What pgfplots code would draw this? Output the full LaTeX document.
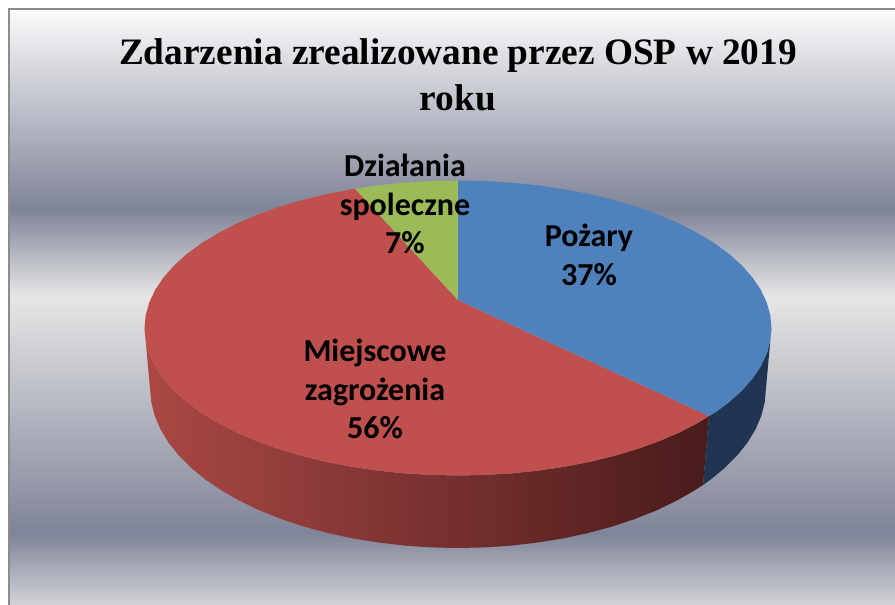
\documentclass[border=0pt]{standalone}
\usepackage{fontspec}
\setmainfont{Liberation Serif}
\newfontfamily\calibri{Carlito}
\usepackage{pgfplots}
\pgfplotsset{compat=1.18}
\definecolor{bgA}{HTML}{FBFBFB}
\definecolor{bgB}{HTML}{7F8498}
\definecolor{bgC}{HTML}{E6E6E6}
\definecolor{bgD}{HTML}{D2D3D7}
\definecolor{frameC}{HTML}{8C8C8C}
\definecolor{pieBlue}{HTML}{4F81BD}
\definecolor{pieRed}{HTML}{C0504D}
\definecolor{pieGreen}{HTML}{9BBB59}
\definecolor{sideBlue}{HTML}{1F3551}
\definecolor{sideRedL}{HTML}{AA4845}
\definecolor{sideRedR}{HTML}{491B1B}
\pgfdeclareverticalshading{chartbg}{100bp}{%
  color(0bp)=(bgD); color(25bp)=(bgD); color(31.05bp)=(bgB);
  color(50.88bp)=(bgC); color(58.19bp)=(bgB);
  color(75bp)=(bgA); color(100bp)=(bgA)}
\pgfdeclarehorizontalshading{redside}{100bp}{%
  color(0bp)=(sideRedL); color(25bp)=(sideRedL);
  color(75bp)=(sideRedR); color(100bp)=(sideRedR)}
\begin{document}
\begin{tikzpicture}
\begin{axis}[
  scale only axis, width=895pt, height=605pt,
  xmin=0, xmax=895, ymin=0, ymax=605, y dir=reverse,
  hide axis, clip=true]
% page
\addplot[draw=none, fill=white] coordinates {(0,0) (895,0) (895,605) (0,605)} --cycle;
% background
\addplot[draw=none, shade, shading=chartbg] coordinates {(9,9) (895,9) (895,605) (9,605)} --cycle;
% frame
\addplot[draw=frameC, line width=2.2pt, forget plot] coordinates {(9,605) (9,9) (895,9)};
% side walls
\addplot[draw=none, fill=sideBlue] coordinates {
 (771.5,328) (770.3,340.9) (766.7,353.6) (760.8,366.2) (752.6,378.4) (742.1,390.3) (729.5,401.8) (714.8,412.6) (709,416)
 (703,485) (710.3,479.8) (724.7,468) (737.1,455.6) (747.4,442.7) (755.5,429.4) (761.3,415.8) (764.8,401.9) (766,388)} --cycle;
\addplot[draw=none, shade, shading=redside] coordinates {
 (709,416) (698.1,422.8) (679.7,432.3) (659.5,441) (637.8,448.8) (614.8,455.7) (590.5,461.7) (565.2,466.6) (539.1,470.5) (512.4,473.3) (485.3,474.9) (458,475.5)
 (430.7,474.9) (403.6,473.3) (376.9,470.5) (350.8,466.6) (325.5,461.7) (301.2,455.7) (278.2,448.8) (256.5,441) (236.3,432.3) (217.9,422.8) (201.2,412.6) (186.5,401.8)
 (173.9,390.3) (163.4,378.4) (155.2,366.2) (149.3,353.6) (145.7,340.9) (144.5,328)
 (150,388) (151.2,401.9) (154.7,415.8) (160.5,429.4) (168.6,442.7) (178.9,455.6) (191.3,468) (205.7,479.8) (222.1,490.8) (240.2,501.1) (260,510.6) (281.3,519.1) (304,526.6)
 (327.8,533) (352.7,538.4) (378.3,542.5) (404.5,545.6) (431.1,547.4) (458,548) (484.9,547.4) (511.5,545.6) (537.7,542.5) (563.3,538.4) (588.2,533) (612,526.6) (634.7,519.1) (656,510.6)
 (675.8,501.1) (693.9,490.8) (703,485)} --cycle;
% top faces
\addplot[draw=none, fill=pieRed] coordinates {
 (458,300) (709,416) (698.1,422.8) (679.7,432.3) (659.5,441) (637.8,448.8) (614.8,455.7) (590.5,461.7) (565.2,466.6) (539.1,470.5) (512.4,473.3) (485.3,474.9) (458,475.5)
 (430.7,474.9) (403.6,473.3) (376.9,470.5) (350.8,466.6) (325.5,461.7) (301.2,455.7) (278.2,448.8) (256.5,441) (236.3,432.3) (217.9,422.8) (201.2,412.6) (186.5,401.8)
 (173.9,390.3) (163.4,378.4) (155.2,366.2) (149.3,353.6) (145.7,340.9) (144.5,328) (145.7,315.1) (149.3,302.4) (155.2,289.8) (163.4,277.6) (173.9,265.7) (186.5,254.2)
 (201.2,243.4) (217.9,233.2) (236.3,223.7) (256.5,215) (278.2,207.2) (301.2,200.3) (325.5,194.3) (355,188.7)} --cycle;
\addplot[draw=none, fill=pieGreen] coordinates {
 (458,300) (355,188.7) (376.9,185.5) (403.6,182.7) (430.7,181.1) (458,180.5)} --cycle;
\addplot[draw=none, fill=pieBlue] coordinates {
 (458,300) (458,180.5) (485.3,181.1) (512.4,182.7) (539.1,185.5) (565.2,189.4) (590.5,194.3) (614.8,200.3) (637.8,207.2) (659.5,215) (679.7,223.7) (698.1,233.2) (714.8,243.4)
 (729.5,254.2) (742.1,265.7) (752.6,277.6) (760.8,289.8) (766.7,302.4) (770.3,315.1) (771.5,328) (770.3,340.9) (766.7,353.6) (760.8,366.2) (752.6,378.4) (742.1,390.3)
 (729.5,401.8) (714.8,412.6) (709,416)} --cycle;
% text
\node[align=center, font=\fontsize{37.3}{46}\selectfont\bfseries] at (axis cs:458,75)
  {Zdarzenia zrealizowane przez OSP w 2019\\roku};
\node[align=center, font=\calibri\fontsize{32}{38.5}\selectfont\bfseries] at (axis cs:405,204)
  {Działania\\spoleczne\\7\%};
\node[align=center, font=\calibri\fontsize{32}{38.5}\selectfont\bfseries] at (axis cs:589,255)
  {Pożary\\37\%};
\node[align=center, font=\calibri\fontsize{32}{38.5}\selectfont\bfseries] at (axis cs:375,389)
  {Miejscowe\\zagrożenia\\56\%};
\end{axis}
\end{tikzpicture}
\end{document}
